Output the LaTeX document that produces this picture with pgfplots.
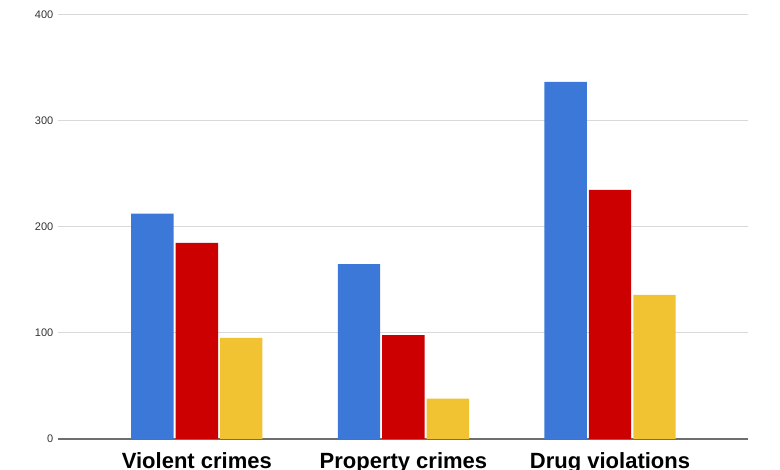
\documentclass[border=0pt]{standalone}
\usepackage{pgfplots}
\pgfplotsset{compat=1.18}
\usepackage{fontspec}
\setmainfont{Liberation Sans}
\definecolor{cblue}{HTML}{3C78D8}
\definecolor{cred}{HTML}{CC0000}
\definecolor{cyellow}{HTML}{F1C232}
\definecolor{gridc}{HTML}{D9D9D9}
\definecolor{basec}{HTML}{6E6E6E}
\definecolor{tickc}{HTML}{333333}
\begin{document}
\begin{tikzpicture}
\useasboundingbox (0,0) rectangle (585pt,352.5pt);
\begin{axis}[
  at={(43.5pt,23.25pt)}, anchor=south west,
  scale only axis, width=517.5pt, height=318pt,
  xmin=-0.672, xmax=2.668, ymin=0, ymax=400,
  axis x line*=bottom, axis y line*=left,
  axis line style={draw=none},
  ytick={0,100,200,300,400},
  xtick={0,1,2},
  xticklabels={Violent crimes,Property crimes,Drug violations},
  major tick length=0pt,
  ymajorgrids, grid style={gridc, line width=0.75pt},
  extra y ticks={0}, extra y tick style={grid style={basec, line width=0.9pt}, yticklabel=\empty},
  xticklabel style={font=\fontsize{16.5}{18}\selectfont\bfseries, anchor=base, yshift=-22.5pt, text=black},
  yticklabel style={font=\fontsize{8.25}{10}\selectfont, text=tickc},
  /pgf/number format/assume math mode=true,
  ybar, bar width=0.205,
  every axis plot/.append style={draw=none},
  clip=false,
]
\addplot[fill=cblue, bar shift=-0.215] coordinates {(0,212.5) (1,165) (2,337)};
\addplot[fill=cred, bar shift=0] coordinates {(0,185) (1,98) (2,235)};
\addplot[fill=cyellow, bar shift=0.215] coordinates {(0,95.5) (1,38) (2,136)};
\end{axis}
\end{tikzpicture}
\end{document}
